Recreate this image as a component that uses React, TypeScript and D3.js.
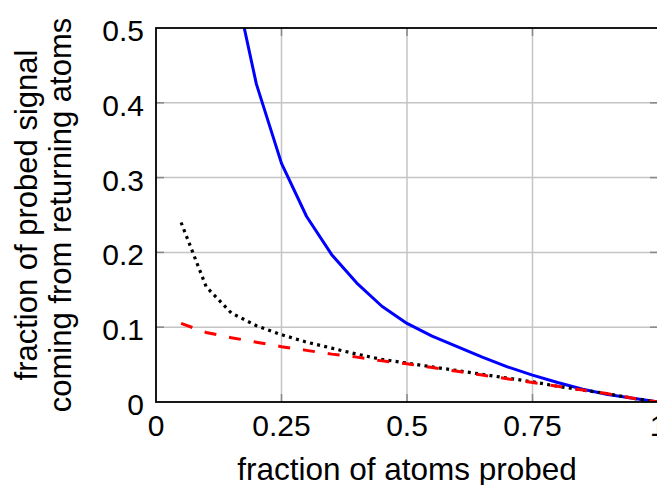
import React from "react";
import * as d3 from "d3";

const xProbed = [0.05, 0.1, 0.15, 0.2, 0.25, 0.3, 0.35, 0.4, 0.45, 0.5, 0.55, 0.6, 0.65, 0.7, 0.75, 0.8, 0.85, 0.9, 0.95, 1.0];
const blueSolid = [null, null, 0.58, 0.425, 0.319, 0.248, 0.197, 0.159, 0.128, 0.105, 0.088, 0.074, 0.06, 0.047, 0.036, 0.026, 0.017, 0.01, 0.005, 0.0];
const blackDotted = [0.24, 0.154, 0.119, 0.102, 0.09, 0.08, 0.072, 0.064, 0.057, 0.052, 0.047, 0.042, 0.037, 0.032, 0.027, 0.021, 0.016, 0.011, 0.005, 0.0];
const redDashed = [0.105, 0.093, 0.086, 0.08, 0.074, 0.069, 0.064, 0.06, 0.055, 0.051, 0.046, 0.041, 0.036, 0.031, 0.026, 0.021, 0.016, 0.011, 0.005, 0.0];

const xTicks = [0, 0.25, 0.5, 0.75, 1];
const xTickLabels = ["0", "0.25", "0.5", "0.75", "1"];
const yTicks = [0, 0.1, 0.2, 0.3, 0.4, 0.5];
const yTickLabels = ["0", "0.1", "0.2", "0.3", "0.4", "0.5"];

const W = 657;
const H = 485;
const L = 156;
const R = 658;
const T = 28;
const B = 402;
const FONT = "'Liberation Sans', Arial, Helvetica, sans-serif";

export default function App() {
  const x = d3.scaleLinear().domain([0, 1]).range([L, R]);
  const y = d3.scaleLinear().domain([0, 0.5]).range([B, T]);

  const mk = (vals: (number | null)[]) =>
    d3
      .line<number>()
      .defined((_, i) => vals[i] !== null)
      .x((d) => x(d))
      .y((_, i) => y(vals[i] as number))(xProbed) || "";

  return (
    <svg width={W} height={H} style={{ position: "absolute", left: 0, top: 0 }} fontFamily={FONT}>
      <defs>
        <clipPath id="plot">
          <rect x={L} y={T} width={R - L} height={B - T} />
        </clipPath>
      </defs>
      <rect x={0} y={0} width={W} height={H} fill="#fff" />
      {xTicks.slice(1, -1).map((t) => (
        <line key={"gx" + t} x1={x(t)} x2={x(t)} y1={T} y2={B} stroke="#c4c4c4" strokeWidth={1.5} />
      ))}
      {yTicks.slice(1, -1).map((t) => (
        <line key={"gy" + t} x1={L} x2={R} y1={y(t)} y2={y(t)} stroke="#c4c4c4" strokeWidth={1.5} />
      ))}
      {xTicks.slice(1, -1).map((t) => (
        <g key={"tx" + t}>
          <line x1={x(t)} x2={x(t)} y1={T} y2={T + 8} stroke="#888" strokeWidth={1.5} />
          <line x1={x(t)} x2={x(t)} y1={B} y2={B - 8} stroke="#888" strokeWidth={1.5} />
        </g>
      ))}
      {yTicks.slice(1, -1).map((t) => (
        <g key={"ty" + t}>
          <line x1={L} x2={L + 8} y1={y(t)} y2={y(t)} stroke="#888" strokeWidth={1.5} />
          <line x1={R} x2={R - 8} y1={y(t)} y2={y(t)} stroke="#888" strokeWidth={1.5} />
        </g>
      ))}
      <g clipPath="url(#plot)" fill="none">
        <path d={mk(blueSolid)} stroke="#0000ff" strokeWidth={3} strokeLinejoin="round" />
        <path d={mk(blackDotted)} stroke="#000" strokeWidth={3.2} strokeDasharray="3,4.3" />
        <path d={mk(redDashed)} stroke="#ff0000" strokeWidth={3} strokeDasharray="12,13" />
      </g>
      <rect x={L} y={T} width={R - L} height={B - T} fill="none" stroke="#000" strokeWidth={1.8} />
      {xTicks.map((t, i) => (
        <text key={"lx" + t} x={x(t)} y={436} textAnchor="middle" fontSize={30} fill="#000">
          {xTickLabels[i]}
        </text>
      ))}
      {yTicks.map((t, i) => (
        <text key={"ly" + t} x={144} y={y(t) + 13} textAnchor="end" fontSize={30} fill="#000">
          {yTickLabels[i]}
        </text>
      ))}
      <text x={407} y={480} textAnchor="middle" fontSize={31.5} fill="#000">
        fraction of atoms probed
      </text>
      <text transform={`translate(37,${(T + B) / 2}) rotate(-90)`} textAnchor="middle" fontSize={31} fill="#000">
        fraction of probed signal
      </text>
      <text transform={`translate(71,${(T + B) / 2}) rotate(-90)`} textAnchor="middle" fontSize={31} fill="#000">
        coming from returning atoms
      </text>
    </svg>
  );
}
